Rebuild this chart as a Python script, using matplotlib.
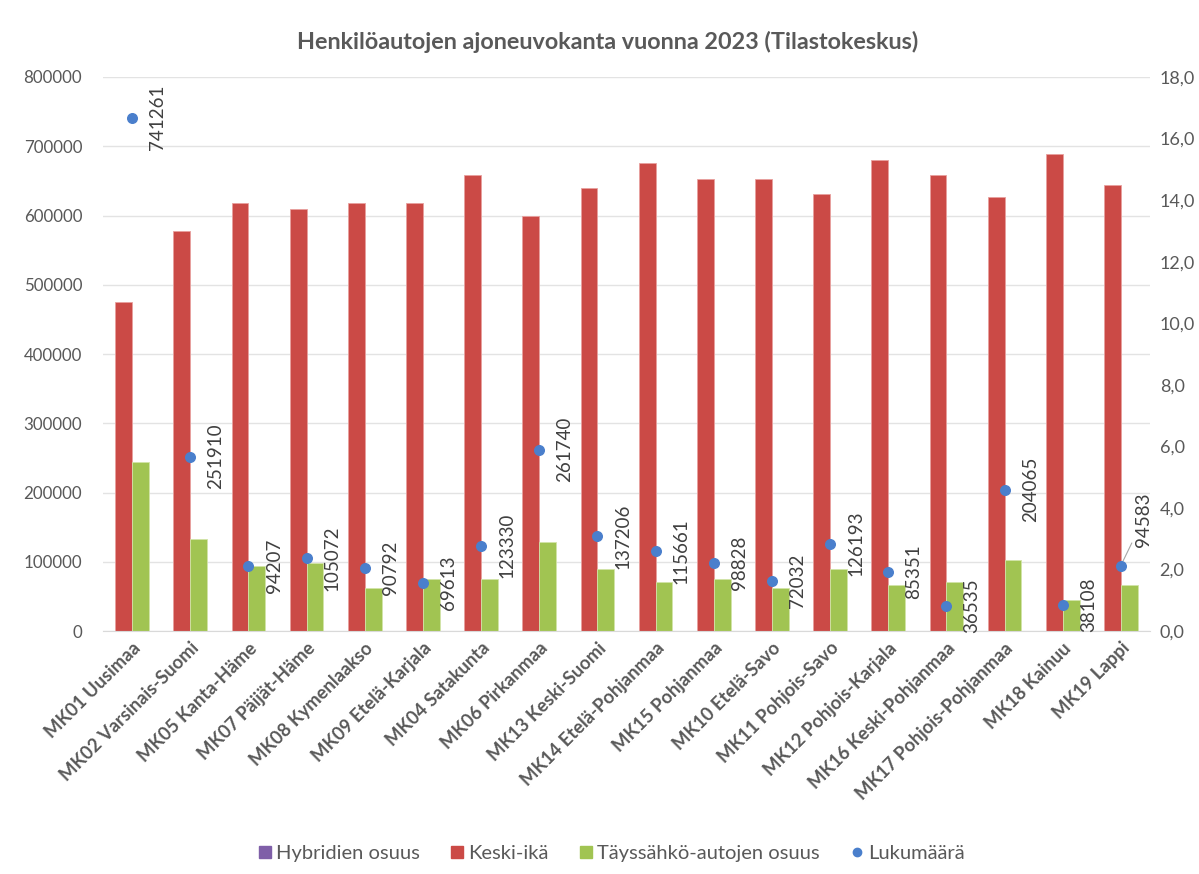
import matplotlib
matplotlib.use("Agg")
import matplotlib.pyplot as plt
from matplotlib.lines import Line2D
from matplotlib.ticker import FuncFormatter
import numpy as np

categories = ["MK01 Uusimaa", "MK02 Varsinais-Suomi", "MK05 Kanta-Häme", "MK07 Päijät-Häme",
              "MK08 Kymenlaakso", "MK09 Etelä-Karjala", "MK04 Satakunta", "MK06 Pirkanmaa",
              "MK13 Keski-Suomi", "MK14 Etelä-Pohjanmaa", "MK15 Pohjanmaa", "MK10 Etelä-Savo",
              "MK11 Pohjois-Savo", "MK12 Pohjois-Karjala", "MK16 Keski-Pohjanmaa",
              "MK17 Pohjois-Pohjanmaa", "MK18 Kainuu", "MK19 Lappi"]
keski_ika = [10.7, 13.0, 13.9, 13.7, 13.9, 13.9, 14.8, 13.5, 14.4, 15.2, 14.7, 14.7,
             14.2, 15.3, 14.8, 14.1, 15.5, 14.5]
tayssahko = [5.5, 3.0, 2.1, 2.2, 1.4, 1.7, 1.7, 2.9, 2.0, 1.6, 1.7, 1.4, 2.0, 1.5, 1.6, 2.3, 1.0, 1.5]
lukumaara = [741261, 251910, 94207, 105072, 90792, 69613, 123330, 261740, 137206, 115661,
             98828, 72032, 126193, 85351, 36535, 204065, 38108, 94583]
left_ticks = [0, 100000, 200000, 300000, 400000, 500000, 600000, 700000, 800000]
right_ticks = [0, 2, 4, 6, 8, 10, 12, 14, 16, 18]
title = "Henkilöautojen ajoneuvokanta vuonna 2023 (Tilastokeskus)"

RED = "#CB4A46"
GREEN = "#A1C452"
BLUE = "#4A7FCC"
PURPLE = "#7F5FA8"
GRAY = "#595959"
FONT = "Lato"
plt.rcParams['font.family'] = [FONT, 'DejaVu Sans']

fig = plt.figure(figsize=(11.99, 8.74), dpi=100)
ax = fig.add_axes([0.0859, 0.278, 0.9591 - 0.0859, 0.9119 - 0.278])
ax2 = ax.twinx()
x = np.arange(len(categories))
bw = 0.29
ax.bar(x - bw / 2, keski_ika, bw, color=RED, edgecolor="#E8A09E", linewidth=0.6, zorder=2)
ax.bar(x + bw / 2, tayssahko, bw, color=GREEN, edgecolor="#D2E4A8", linewidth=0.6, zorder=2)
ax.set_ylim(0, 18)
ax.set_xlim(-0.5, len(categories) - 0.5)
ax.yaxis.tick_right()
ax.set_yticks(right_ticks)
ax.yaxis.set_major_formatter(FuncFormatter(lambda v, p: f"{v:.1f}".replace(".", ",")))
ax.tick_params(axis='y', length=0, pad=7, labelsize=13, labelcolor=GRAY)
ax.set_xticks(x)
ax.set_xticklabels(categories, rotation=45, ha='right', va='top', rotation_mode='anchor',
                   fontsize=13.2, fontweight='bold', color=GRAY)
ax.tick_params(axis='x', length=0, pad=6)
for s in ['top', 'left', 'right']:
    ax.spines[s].set_visible(False)
ax.spines['bottom'].set_color("#D9D9D9")

ax2.set_ylim(0, 800000)
ax2.yaxis.tick_left()
ax2.set_yticks(left_ticks)
ax2.yaxis.set_major_formatter(FuncFormatter(lambda v, p: f"{int(v)}"))
ax2.tick_params(axis='y', length=0, pad=15, labelsize=12.2, labelcolor=GRAY)
for s in ['top', 'left', 'right', 'bottom']:
    ax2.spines[s].set_visible(False)
for t in left_ticks:
    ax.axhline(t / 800000 * 18, color="#E3E3E3", linewidth=1, zorder=0)
ax2.scatter(x, lukumaara, s=48, color=BLUE, zorder=5)
for i, v in enumerate(lukumaara):
    if i == len(lukumaara) - 1:
        ax2.annotate(str(v), (x[i], v), xytext=(16, 33), textcoords='offset points',
                     rotation=90, ha='center', va='center', fontsize=13.5, color="#404040",
                     arrowprops=dict(arrowstyle='-', color="#A6A6A6", lw=0.8, shrinkA=0, shrinkB=2))
    else:
        ax2.annotate(str(v), (x[i], v), xytext=(18.5, 0), textcoords='offset points',
                     rotation=90, ha='center', va='center', fontsize=13.5, color="#404040",
                     annotation_clip=False)

fig.text(0.507, 1 - 42 / 874, title, ha='center', va='center', fontsize=16.8,
         fontweight='bold', color=GRAY)

handles = [Line2D([], [], marker='s', linestyle='None', color=PURPLE, markersize=8),
           Line2D([], [], marker='s', linestyle='None', color=RED, markersize=8),
           Line2D([], [], marker='s', linestyle='None', color=GREEN, markersize=8),
           Line2D([], [], marker='o', linestyle='None', color=BLUE, markersize=6)]
labels = ["Hybridien osuus", "Keski-ikä", "Täyssähkö-autojen osuus", "Lukumäärä"]
fig.legend(handles, labels, loc='center', bbox_to_anchor=(0.51, 1 - 853 / 874), ncol=4,
           frameon=False, fontsize=14.5, labelcolor=GRAY, handlelength=0.7, handletextpad=0.2,
           columnspacing=1.5)

fig.savefig("out.png", dpi=100)
